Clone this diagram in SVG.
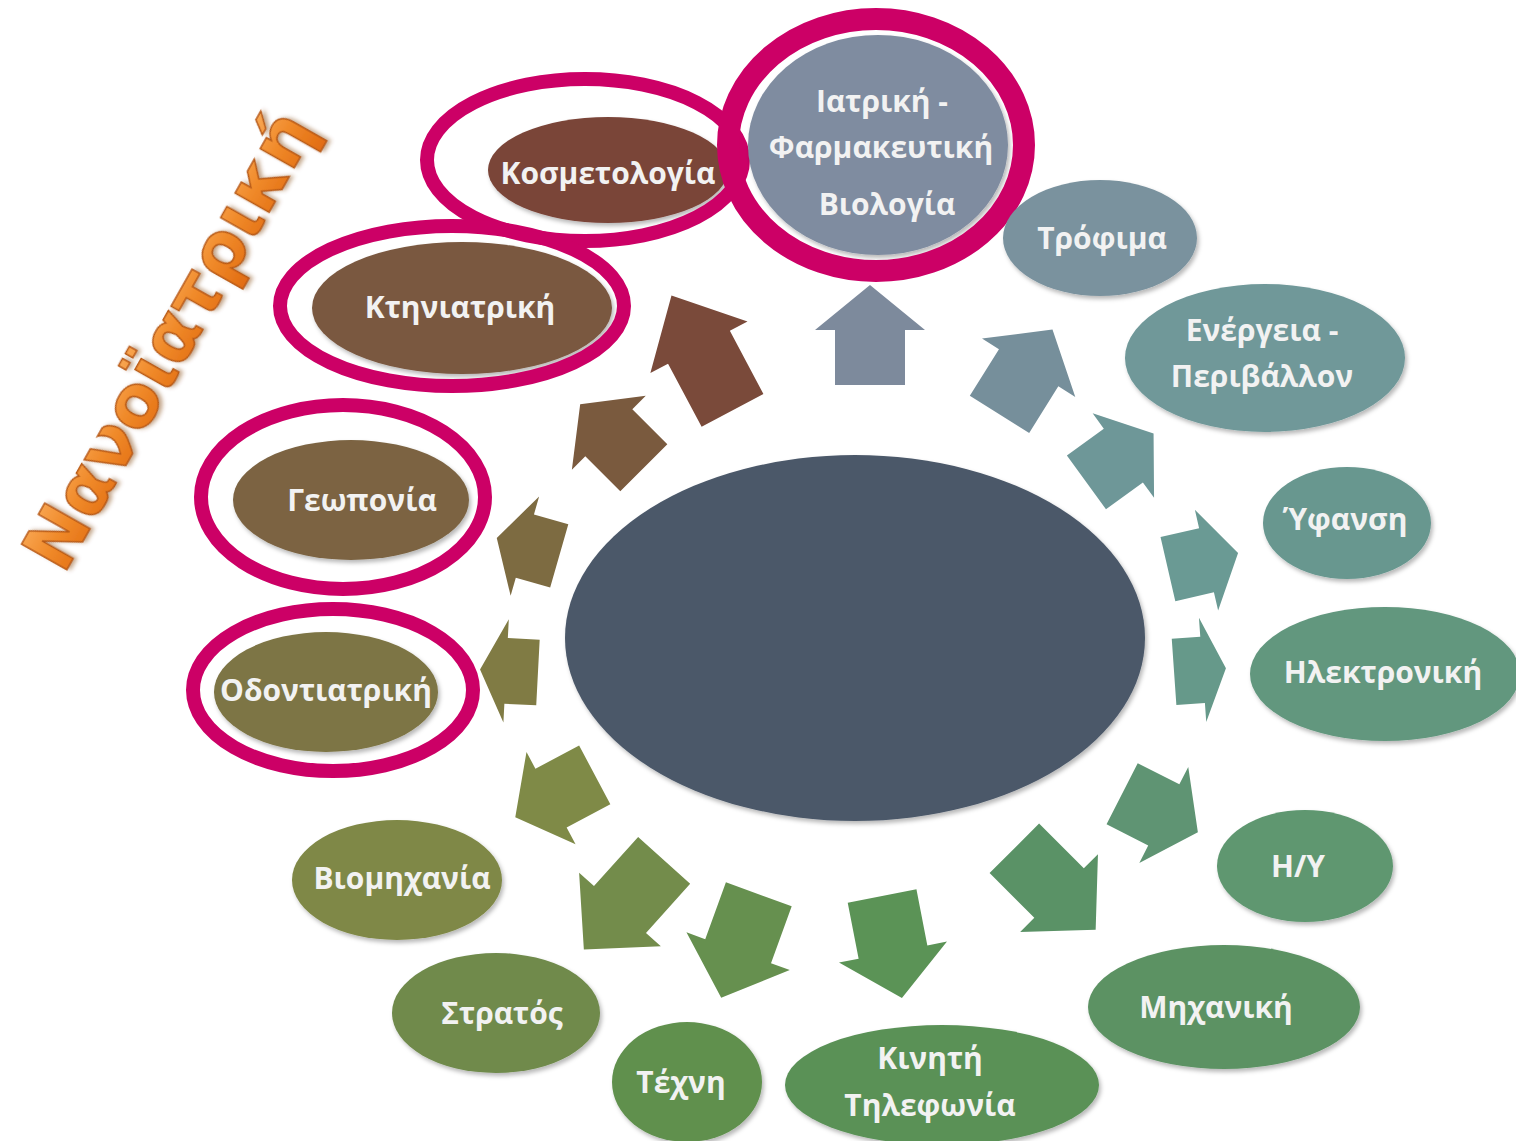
<svg xmlns="http://www.w3.org/2000/svg" width="1516" height="1141" viewBox="0 0 1516 1141">
  <defs>
    <!-- block arrow pointing up, centred on the origin -->
    <polygon id="blk" points="0,-50 55,-5 35,-5 35,50 -35,50 -35,-5 -55,-5"/>
    <filter id="sh" x="-20%" y="-20%" width="140%" height="140%">
      <feDropShadow dx="2" dy="3" stdDeviation="2" flood-color="#000" flood-opacity="0.28"/>
    </filter>
    <filter id="tsh" x="-10%" y="-10%" width="120%" height="120%">
      <feDropShadow dx="2" dy="3" stdDeviation="2" flood-color="#7a3a00" flood-opacity="0.45"/>
    </filter>
    <linearGradient id="org" x1="0" y1="0" x2="0" y2="1">
      <stop offset="0" stop-color="#fbb060"/>
      <stop offset="0.5" stop-color="#f08a2a"/>
      <stop offset="1" stop-color="#e06a10"/>
    </linearGradient>
    <style>
      .lbl { font-family: "Open Sans", "Noto Sans", "DejaVu Sans", sans-serif; font-weight: 700; font-size: 30px; fill: #f2f2f2; text-anchor: middle; }
      .node { filter: url(#sh); }
      .ring { fill: none; stroke: #cc0066; }
      .title { font-family: "DejaVu Sans", "Noto Sans", sans-serif; font-weight: 700; font-size: 72px; fill: url(#org); stroke: #b85a18; stroke-width: 1.5; text-anchor: middle; filter: url(#tsh); }
    </style>
  </defs>

  <rect width="1516" height="1141" fill="#ffffff"/>

  <!-- title -->
  <text class="title" transform="translate(190,352) rotate(-60.5)">Νανοϊατρική</text>

  <!-- centre -->
  <g id="center">
    <ellipse class="node" cx="855" cy="638" rx="290" ry="183" fill="#4b5869"/>
  </g>

  <!-- arrows -->
  <g id="connectors">
    <use href="#blk" fill="#7d8a9c" transform="translate(870,335) rotate(0) scale(1,1)"/>
    <use href="#blk" fill="#768f9b" transform="translate(1026,372) rotate(32) scale(1,1)"/>
    <use href="#blk" fill="#6e9798" transform="translate(1120,458) rotate(54) scale(0.95,0.83)"/>
    <use href="#blk" fill="#6a9a94" transform="translate(1203,561) rotate(77) scale(0.94,0.72)"/>
    <use href="#blk" fill="#66998a" transform="translate(1200,670) rotate(86) scale(0.95,0.52)"/>
    <use href="#blk" fill="#5f9473" transform="translate(1160,813) rotate(117) scale(0.98,0.85)"/>
    <use href="#blk" fill="#5a9266" transform="translate(1055,889) rotate(135) scale(1,1.15)"/>
    <use href="#blk" fill="#5b9356" transform="translate(892,947) rotate(169) scale(1,1.04)"/>
    <use href="#blk" fill="#66904f" transform="translate(740,946) rotate(200) scale(1,1.1)"/>
    <use href="#blk" fill="#738c4b" transform="translate(624,905) rotate(222) scale(1,1.2)"/>
    <use href="#blk" fill="#7f8a47" transform="translate(555,796) rotate(242) scale(0.95,0.9)"/>
    <use href="#blk" fill="#807b44" transform="translate(509,671) rotate(273) scale(0.94,0.58)"/>
    <use href="#blk" fill="#7d6b41" transform="translate(528,547) rotate(286) scale(0.94,0.65)"/>
    <use href="#blk" fill="#7a5a3e" transform="translate(612,436) rotate(315) scale(0.95,0.9)"/>
    <use href="#blk" fill="#7a4a3a" transform="translate(702,353) rotate(332) scale(1,1.3)"/>
  </g>

  <!-- outer nodes -->
  <g id="n-kosmetologia">
    <ellipse class="node" cx="608" cy="170" rx="120" ry="53" fill="#7a4438"/>
    <text class="lbl" x="608" y="184">Κοσμετολογία</text>
    <ellipse class="ring" cx="585" cy="160" rx="158" ry="81" stroke-width="14"/>
  </g>

  <g id="n-iatriki">
    <ellipse class="node" cx="878" cy="145" rx="130" ry="110" fill="#7f8ca0"/>
    <text class="lbl" x="882" y="112">Ιατρική -</text>
    <text class="lbl" x="881" y="158">Φαρμακευτική</text>
    <text class="lbl" x="887" y="215">Βιολογία</text>
    <ellipse class="ring" cx="876" cy="145" rx="148" ry="126" stroke-width="22"/>
  </g>

  <g id="n-trofima">
    <ellipse class="node" cx="1100" cy="238" rx="97" ry="58" fill="#7a929e"/>
    <text class="lbl" x="1102" y="249">Τρόφιμα</text>
  </g>

  <g id="n-energeia">
    <ellipse class="node" cx="1265" cy="358" rx="140" ry="74" fill="#6f9899"/>
    <text class="lbl" x="1262" y="341">Ενέργεια -</text>
    <text class="lbl" x="1262" y="387">Περιβάλλον</text>
  </g>

  <g id="n-yfansi">
    <ellipse class="node" cx="1347" cy="523" rx="84" ry="56" fill="#67978f"/>
    <text class="lbl" x="1345" y="530">Ύφανση</text>
  </g>

  <g id="n-ilektroniki">
    <ellipse class="node" cx="1385" cy="674" rx="135" ry="67" fill="#62977e"/>
    <text class="lbl" x="1383" y="683">Ηλεκτρονική</text>
  </g>

  <g id="n-hy">
    <ellipse class="node" cx="1305" cy="866" rx="88" ry="56" fill="#5e9770"/>
    <text class="lbl" x="1298" y="877">Η/Υ</text>
  </g>

  <g id="n-michaniki">
    <ellipse class="node" cx="1224" cy="1007" rx="136" ry="62" fill="#5c9263"/>
    <text class="lbl" x="1216" y="1018">Μηχανική</text>
  </g>

  <g id="n-kiniti">
    <ellipse class="node" cx="942" cy="1085" rx="157" ry="60" fill="#5a9157"/>
    <text class="lbl" x="930" y="1069">Κινητή</text>
    <text class="lbl" x="930" y="1116">Τηλεφωνία</text>
  </g>

  <g id="n-techni">
    <ellipse class="node" cx="687" cy="1082" rx="75" ry="60" fill="#60904e"/>
    <text class="lbl" x="681" y="1093">Τέχνη</text>
  </g>

  <g id="n-stratos">
    <ellipse class="node" cx="496" cy="1013" rx="104" ry="60" fill="#6f8a4c"/>
    <text class="lbl" x="502" y="1024">Στρατός</text>
  </g>

  <g id="n-viomichania">
    <ellipse class="node" cx="397" cy="880" rx="105" ry="60" fill="#7f8846"/>
    <text class="lbl" x="402" y="889">Βιομηχανία</text>
  </g>

  <g id="n-odontiatriki">
    <ellipse class="node" cx="326" cy="692" rx="112" ry="60" fill="#7d7444"/>
    <text class="lbl" x="326" y="701">Οδοντιατρική</text>
    <ellipse class="ring" cx="333" cy="690" rx="140" ry="81" stroke-width="14"/>
  </g>

  <g id="n-geoponia">
    <ellipse class="node" cx="351" cy="500" rx="118" ry="60" fill="#7b6443"/>
    <text class="lbl" x="362" y="511">Γεωπονία</text>
    <ellipse class="ring" cx="343" cy="497" rx="142" ry="92" stroke-width="14"/>
  </g>

  <g id="n-ktiniatriki">
    <ellipse class="node" cx="462" cy="308" rx="150" ry="66" fill="#7a5840"/>
    <text class="lbl" x="460" y="318">Κτηνιατρική</text>
    <ellipse class="ring" cx="452" cy="306" rx="172" ry="80" stroke-width="14"/>
  </g>
</svg>
